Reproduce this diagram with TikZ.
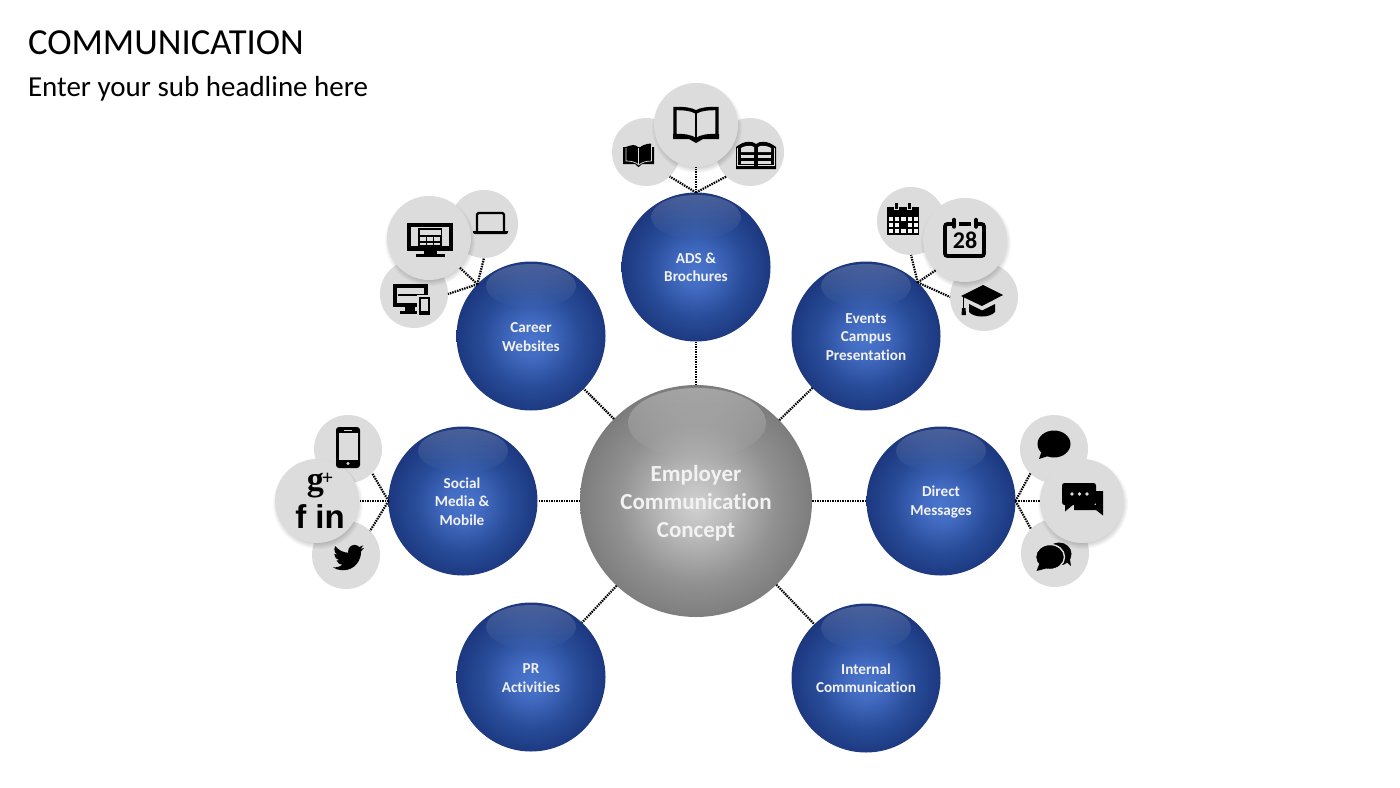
\documentclass[tikz,border=0pt]{standalone}
\usepackage{fontspec}
\setmainfont{Carlito}[Ligatures=NoCommon]
\newfontfamily\heavyfont{Liberation Sans}[BoldFont={Liberation Sans Bold}]
\newfontfamily\gfont{Liberation Serif}[BoldFont={Liberation Serif Bold}]
\usetikzlibrary{fadings}
\definecolor{chip}{HTML}{DCDCDC}
\pgfdeclareradialshading{blueball}{\pgfpoint{0bp}{-1.2bp}}{rgb(0bp)=(0.29,0.46,0.80);rgb(6bp)=(0.26,0.42,0.76);rgb(16bp)=(0.16,0.30,0.60);rgb(25bp)=(0.11,0.22,0.50);rgb(30bp)=(0.09,0.19,0.45);rgb(50bp)=(0.09,0.19,0.45)}
\pgfdeclareradialshading{greyball}{\pgfpoint{0bp}{-0.8bp}}{rgb(0bp)=(0.82,0.82,0.82);rgb(7bp)=(0.73,0.73,0.73);rgb(17bp)=(0.57,0.57,0.57);rgb(25bp)=(0.49,0.49,0.49);rgb(30bp)=(0.42,0.42,0.42);rgb(50bp)=(0.42,0.42,0.42)}
\tikzset{
  x=1pt,y=-1pt,
  hubball/.style={circle,inner sep=0pt,outer sep=0pt,minimum size=232pt,shading=greyball},
  hubtext/.style={inner sep=0pt,text=white!95!black,align=center,font=\fontsize{23}{28}\selectfont\bfseries},
  topicball/.style={circle,inner sep=0pt,outer sep=0pt,minimum size=149pt,shading=blueball},
  topictext/.style={inner sep=0pt,text=white!95!black,align=center,font=\fontsize{15.2}{18.3}\selectfont\bfseries},
  smallchip/.style={circle,inner sep=0pt,outer sep=0pt,minimum size=68pt,fill=chip},
  bigchip/.style={circle,inner sep=0pt,outer sep=0pt,minimum size=84pt,fill=chip},
  spoke/.style={line width=2.2pt,dash pattern=on 1.5pt off 1pt,black},
  twig/.style={line width=2.2pt,dash pattern=on 1.5pt off 1pt,black},
  gloss/.style={white,path fading=south,opacity=.3},
  bluegloss/.style={white,path fading=south,opacity=.2},
  ink/.style={fill=black,draw=none},
  hole/.style={fill=chip,draw=none},
  plainlabel/.style={inner sep=0pt,outer sep=0pt,anchor=base west,text=black}
}
\newcommand{\softshadow}[3]{%
  \foreach \k in {-3,-2,...,3}{\fill[black,opacity=.028] (#1+1,#2+3) circle[radius=#3+\k];}%
}
\begin{document}
\begin{tikzpicture}
\useasboundingbox (0,0) rectangle (1400,787);
\fill[white] (0,0) rectangle (1400,787);

\node[plainlabel,font=\fontsize{36.7}{40}\selectfont] (title) at (28,54) {COMMUNICATION};
\node[plainlabel,font=\fontsize{29}{32}\selectfont] (subtitle) at (28,96) {Enter your sub headline here};

% balls
\node[hubball] (hub) at (696,501) {};
\fill[gloss] (697,423) ellipse[x radius=69,y radius=35];
\node[topicball] (ads) at (696,267) {};
\node[topicball] (career) at (531,336) {};
\node[topicball] (events) at (866,336) {};
\node[topicball] (social) at (463,501) {};
\node[topicball] (direct) at (941,501) {};
\node[topicball] (pr) at (531,677) {};
\node[topicball] (internal) at (866,678) {};
\foreach \cx/\cy in {696/267,531/336,866/336,463/501,941/501,531/677,866/678}{
  \fill[bluegloss] (\cx,\cy-50) ellipse[x radius=45,y radius=22];
}
\node[hubtext] (hubt) at (696,503) {Employer\\Communication\\Concept};
\node[topictext] (adst) at (696,267) {ADS \&\\Brochures};
\node[topictext] (careert) at (531,337) {Career\\Websites};
\node[topictext] (eventst) at (866,337) {Events\\Campus\\Presentation};
\node[topictext] (socialt) at (462,501.5) {Social\\Media \&\\Mobile};
\node[topictext] (directt) at (941,502) {Direct\\Messages};
\node[topictext] (prt) at (531,678) {PR\\Activities};
\node[topictext] (internalt) at (866,678) {Internal\\Communication};

% chips
\node[smallchip] (adsL) at (646,152) {};
\node[smallchip] (adsR) at (750,152) {};
\softshadow{696}{125}{42}
\node[bigchip] (adsM) at (696,125) {};
\node[smallchip] (carL) at (484,224) {};
\node[smallchip] (carB) at (414,294) {};
\softshadow{429}{238}{42}
\node[bigchip] (carM) at (429,238) {};
\node[smallchip] (evtT) at (911,221) {};
\node[smallchip] (evtC) at (984,297) {};
\softshadow{965}{240}{42}
\node[bigchip] (evtM) at (965,240) {};
\node[smallchip] (socT) at (348,449) {};
\node[smallchip] (socB) at (346,555) {};
\softshadow{317}{501}{42}
\node[bigchip] (socM) at (317,501) {};
\node[smallchip] (dirT) at (1054,449) {};
\node[smallchip] (dirB) at (1055,553) {};
\softshadow{1082}{501}{42}
\node[bigchip] (dirM) at (1082,501) {};

% hub spokes
\foreach \t in {ads,career,events,social,direct,pr,internal}{
  \draw[spoke] (hub) -- (\t);
}
% twigs
\draw[twig] (ads.north) -- (adsL.-46);
\draw[twig] (ads.north) -- (adsM.south);
\draw[twig] (ads.north) -- (adsR.-134);
\draw[twig] (career.136) -- (carM.-44);
\draw[twig] (career.136) -- (carL.south);
\draw[twig] (career.136) -- (carB.east);
\draw[twig] (events.46) -- (evtT.south);
\draw[twig] (events.46) -- (evtM.-134);
\draw[twig] (events.46) -- (evtC.west);
\draw[twig] (social.west) -- (socT.-45);
\draw[twig] (social.west) -- (socM.east);
\draw[twig] (social.west) -- (socB.45);
\draw[twig] (direct.east) -- (dirT.-134);
\draw[twig] (direct.east) -- (dirM.west);
\draw[twig] (direct.east) -- (dirB.135);

% --- ADS icons
% small solid book
\fill[ink] (623,147) -- (623,164) -- (635,164) .. controls (637,165) and (637,167) .. (638.5,167) .. controls (640,167) and (640,165) .. (642,164) -- (654,164) -- (654,147) -- cycle;
\fill[ink] (626,147) .. controls (631,145) and (635,144) .. (638,147) -- (638,150) -- (626,150) -- cycle;
\fill[ink] (651,143.5) .. controls (646,144) and (642,145) .. (639.5,148) -- (639.5,150) -- (651,150) -- cycle;
\fill[hole] (623,143) rectangle (625.5,147);
\fill[hole] (652,143) rectangle (655,147);
\draw[chip,line width=.9pt] (638.7,148) -- (638.7,164);
\draw[chip,line width=.7pt] (626,148) -- (626,161) .. controls (631,161) and (636,162) .. (638.7,165) .. controls (642,162) and (647,161) .. (651.5,161) -- (651.5,146);
% large open book
\draw[black,line width=3.4pt,line join=miter] (696,112) .. controls (691,109) and (684,108.5) .. (675,108.5) -- (675,135.5) .. controls (684,135.5) and (691,136) .. (696,140) .. controls (701,136) and (708,135.5) .. (717,135.5) -- (717,108.5) .. controls (708,108.5) and (701,109) .. (696,112) -- cycle;
\draw[black,line width=2pt] (696,112) -- (696,140);
\fill[ink] (673,134) -- (684,136) .. controls (690,137) and (693,139) .. (696,142) .. controls (699,139) and (702,137) .. (708,136) -- (719,134) -- (719,139) -- (703,139) -- (696,143) -- (689,139) -- (673,139) -- cycle;
% ruled book
\fill[ink] (736,147) .. controls (745,140) and (752,141) .. (756,144) .. controls (760,141) and (767,140) .. (776,147) -- (776,169) -- (736,169) -- cycle;
\fill[hole] (741,148) .. controls (745,145.5) and (751,145) .. (754,147) -- (754,152) -- (741,152) -- cycle;
\fill[hole] (758,147) .. controls (761,145) and (767,145.5) .. (771,148) -- (771,152) -- (758,152) -- cycle;
\foreach \ya/\yb in {154.5/158,160.5/163.5}{
  \fill[hole] (741,\ya) rectangle (754,\yb);
  \fill[hole] (758,\ya) rectangle (771,\yb);
}
\draw[chip,line width=.6pt] (737.5,148) -- (737.5,165.5) -- (754,165.5);
\draw[chip,line width=.6pt] (774.5,148) -- (774.5,165.5) -- (758,165.5);

% --- Career icons
% monitor
\fill[ink] (407,223) rectangle (453,251);
\fill[hole] (411,227) rectangle (449,246);
\fill[ink] (418,228) rectangle (442,248);
\fill[hole] (420,229.5) rectangle (441,234.5);
\foreach \bx in {419.5,426.5,433.5}{
  \fill[hole] (\bx,237) rectangle (\bx+6,241);
  \fill[hole] (\bx,242.5) rectangle (\bx+6,245);
}
\fill[ink] (424,250) rectangle (437,254);
\fill[ink] (416,254) rectangle (445,257);
% laptop
\draw[black,line width=2.2pt,rounded corners=1.5pt] (477,231) -- (477,213) -- (504,213) -- (504,231);
\fill[ink] (473,231) -- (508,231) -- (508,232) .. controls (508,233.5) and (507,234) .. (506,234) -- (475,234) .. controls (474,234) and (473,233.5) .. (473,232) -- cycle;
% responsive devices
\fill[ink] (393,284) rectangle (428,307);
\fill[hole] (397,288) rectangle (424,303);
\draw[black,line width=1.4pt] (398,295) -- (424,295);
\fill[ink] (405,307) rectangle (415,311);
\fill[ink] (400,311) rectangle (420,314);
\fill[hole] (417,295) rectangle (430,315);
\fill[ink] (419,297) rectangle (429.5,314.5);
\fill[hole] (421,299) rectangle (428,311);

% --- Events icons
% grid calendar
\fill[ink] (887,207) rectangle (919,235);
\fill[hole] (894,202.5) rectangle (899,210);
\fill[hole] (907,202.5) rectangle (912,210);
\fill[ink] (895.2,203) rectangle (897.8,209);
\fill[ink] (908.2,203) rectangle (910.8,209);
\foreach \r in {216.5,222.5,228.5}{
  \foreach \c in {889,895.2,901.4,907.6,913.8}{
    \fill[white!70!chip] (\c,\r) rectangle (\c+4.2,\r+4.2);
  }
}
\fill[ink] (901.4,222.5) rectangle (905.6,226.7);
% big calendar
\draw[black,line width=3.8pt,rounded corners=2.5pt] (954,224) -- (945,224) -- (945,256) -- (984,256) -- (984,224) -- (976,224);
\draw[black,line width=3.4pt] (959,224) -- (971,224);
\draw[black,line width=3.4pt,line cap=round] (954,219.5) -- (954,227);
\draw[black,line width=3.4pt,line cap=round] (976,219.5) -- (976,227);
\node[inner sep=0pt,font=\fontsize{24}{24}\selectfont\bfseries] (date) at (965,240) {28};
% cap
\fill[ink] (961,296) -- (983,285) -- (1003,295) -- (982,306) -- cycle;
\fill[ink] (969,304) -- (982,310.5) -- (995,304) -- (995,312) .. controls (990,318) and (974,318) .. (969,312) -- cycle;
\draw[black,line width=1.3pt] (963.5,297) -- (963.5,309);
\fill[ink] (962,308) -- (965.5,308) -- (966,315) -- (961.5,315) -- cycle;

% --- Social icons
\fill[ink,rounded corners=3pt] (336,427) rectangle (360,468);
\fill[hole] (338.5,433) rectangle (357.5,459.5);
\fill[hole] (348,463.5) circle[radius=1.6];
\fill[hole] (344,429.5) rectangle (352,430.5);
\node[inner sep=0pt,text=black] (gplus) at (320,486) {\gfont\bfseries\fontsize{34}{34}\selectfont g\hspace{-2pt}\raisebox{6pt}{\fontsize{20}{20}\selectfont +}};
\node[inner sep=0pt,text=black] (fin) at (320,517) {\heavyfont\bfseries\fontsize{33}{33}\selectfont f in};
\begin{scope}[shift={(333,542)},x=1.3pt,y=-1.3pt]
\fill[ink] (23.95,4.57) .. controls (23.1,4.95) and (22.1,5.2) .. (21.13,5.35) .. controls (22.15,4.73) and (22.93,3.77) .. (23.29,2.62) .. controls (22.34,3.18) and (21.29,3.58) .. (20.16,3.81) .. controls (19.27,2.86) and (17.99,2.25) .. (16.56,2.25) .. controls (13.84,2.25) and (11.64,4.45) .. (11.64,7.17) .. controls (11.64,7.56) and (11.69,7.93) .. (11.78,8.29) .. controls (7.69,8.095) and (4.067,6.13) .. (1.64,3.162) .. controls (1.22,3.89) and (0.974,4.73) .. (0.974,5.637) .. controls (0.974,7.347) and (1.844,8.85) .. (3.162,9.733) .. controls (2.36,9.71) and (1.6,9.49) .. (0.934,9.117) -- (0.934,9.177) .. controls (0.934,11.56) and (2.63,13.55) .. (4.88,14.0) .. controls (4.17,14.19) and (3.42,14.22) .. (2.67,14.09) .. controls (3.3,16.05) and (5.12,17.47) .. (7.27,17.51) .. controls (5.58,18.83) and (3.45,19.6) .. (1.17,19.615) .. controls (0.78,19.615) and (0.39,19.59) .. (0,19.548) .. controls (2.19,20.95) and (4.77,21.757) .. (7.557,21.757) .. controls (16.61,21.757) and (21.555,14.26) .. (21.555,7.77) .. controls (21.555,7.56) and (21.555,7.35) .. (21.54,7.14) .. controls (22.5,6.44) and (23.34,5.58) .. (24,4.59) -- cycle;
\end{scope}

% --- Direct icons
\fill[ink] (1054,444) ellipse[x radius=16.5,y radius=13.5];
\fill[ink] (1042,450) -- (1039,459) -- (1051,455) -- cycle;
% big chat
\fill[ink] (1096,491) -- (1103,491) -- (1103,510) -- (1103,515.5) -- (1096,510) -- (1074,510) -- (1074,507) -- (1096,507) -- cycle;
\fill[ink,rounded corners=2.5pt] (1062,483) rectangle (1096,505);
\fill[ink] (1065,503) -- (1065,511.5) -- (1074,504) -- cycle;
\fill[ink] (1074,505) rectangle (1096,508);
\fill[hole] (1072,494) circle[radius=1.8];
\fill[hole] (1079.5,494) circle[radius=1.8];
\fill[hole] (1087,494) circle[radius=1.8];
% double bubbles
\fill[ink] (1059,554) ellipse[x radius=12.5,y radius=11.5];
\fill[ink] (1064,560) -- (1071,566) -- (1069,553) -- cycle;
\draw[chip,line width=1.4pt,fill=black] (1050,557) ellipse[x radius=14.5,y radius=12.5];
\fill[ink] (1040,562) -- (1036.5,571) -- (1048,568) -- cycle;
\end{tikzpicture}
\end{document}
